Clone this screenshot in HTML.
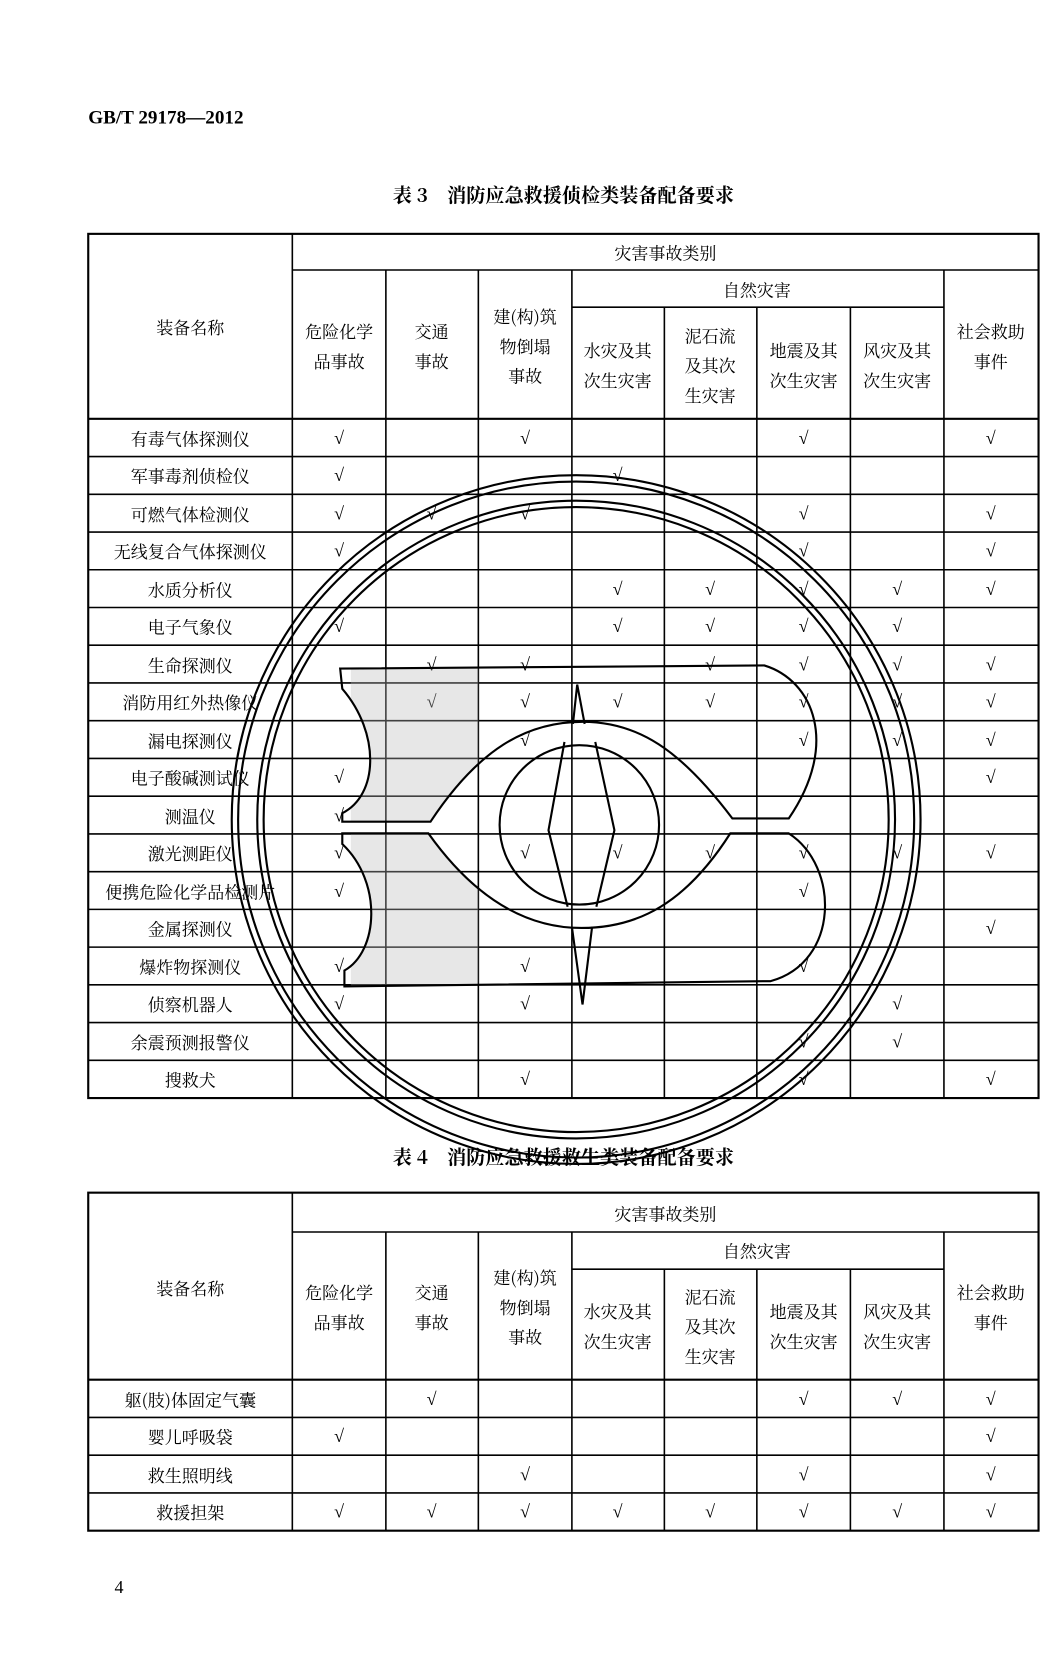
<!DOCTYPE html>
<html><head><meta charset="utf-8"><style>
html,body{margin:0;padding:0;background:#fff;}
svg{display:block;}
text{font-family:"Noto Serif CJK SC","Liberation Serif",serif;fill:#000;}
.t{font-size:16px;text-anchor:middle;dominant-baseline:central;}
.c{font-size:17px;text-anchor:middle;dominant-baseline:central;font-family:"Liberation Serif",serif;}
.b{font-weight:bold;font-size:18px;text-anchor:middle;dominant-baseline:central;}
</style></head><body>
<svg width="1063" height="1671" viewBox="0 0 1000 1572" xmlns="http://www.w3.org/2000/svg">
<rect width="1000" height="1572" fill="#fff"/>
<text x="83" y="111" style="font-family:'Liberation Serif',serif;font-size:18px;font-weight:bold;dominant-baseline:central;">GB/T 29178—2012</text>
<text x="530" y="183" class="b">表 3　消防应急救援侦检类装备配备要求</text>
<text x="530" y="1088" class="b">表 4　消防应急救援救生类装备配备要求</text>
<text x="112" y="1493" class="c">4</text>

<!-- TABLE 3 -->
<g stroke="#000" stroke-width="1.5" fill="none">
<rect x="83" y="220" width="894" height="813" stroke-width="2"/>
<line x1="275" y1="220" x2="275" y2="1033"/>
<line x1="275" y1="254" x2="977" y2="254"/>
<line x1="538" y1="289" x2="888" y2="289"/>
<line x1="83" y1="394" x2="977" y2="394" stroke-width="2"/>
<line x1="363" y1="254" x2="363" y2="1033"/>
<line x1="450" y1="254" x2="450" y2="1033"/>
<line x1="538" y1="254" x2="538" y2="1033"/>
<line x1="625" y1="289" x2="625" y2="1033"/>
<line x1="712" y1="289" x2="712" y2="1033"/>
<line x1="800" y1="289" x2="800" y2="1033"/>
<line x1="888" y1="254" x2="888" y2="1033"/>
<line x1="83" y1="429.5" x2="977" y2="429.5"/>
<line x1="83" y1="465" x2="977" y2="465"/>
<line x1="83" y1="500.5" x2="977" y2="500.5"/>
<line x1="83" y1="536" x2="977" y2="536"/>
<line x1="83" y1="571.5" x2="977" y2="571.5"/>
<line x1="83" y1="607" x2="977" y2="607"/>
<line x1="83" y1="642.5" x2="977" y2="642.5"/>
<line x1="83" y1="678" x2="977" y2="678"/>
<line x1="83" y1="713.5" x2="977" y2="713.5"/>
<line x1="83" y1="749" x2="977" y2="749"/>
<line x1="83" y1="784.5" x2="977" y2="784.5"/>
<line x1="83" y1="820" x2="977" y2="820"/>
<line x1="83" y1="855.5" x2="977" y2="855.5"/>
<line x1="83" y1="891" x2="977" y2="891"/>
<line x1="83" y1="926.5" x2="977" y2="926.5"/>
<line x1="83" y1="962" x2="977" y2="962"/>
<line x1="83" y1="997.5" x2="977" y2="997.5"/>
</g>
<g>
<text x="626" y="237" class="t">灾害事故类别</text>
<text x="712" y="272" class="t">自然灾害</text>
<text x="179" y="307" class="t">装备名称</text>
<text x="319" y="311" class="t">危险化学</text><text x="319" y="339" class="t">品事故</text>
<text x="406" y="311" class="t">交通</text><text x="406" y="339" class="t">事故</text>
<text x="494" y="297" class="t">建(构)筑</text><text x="494" y="325" class="t">物倒塌</text><text x="494" y="353" class="t">事故</text>
<text x="581" y="329" class="t">水灾及其</text><text x="581" y="357" class="t">次生灾害</text>
<text x="668" y="315" class="t">泥石流</text><text x="668" y="343" class="t">及其次</text><text x="668" y="371" class="t">生灾害</text>
<text x="756" y="329" class="t">地震及其</text><text x="756" y="357" class="t">次生灾害</text>
<text x="844" y="329" class="t">风灾及其</text><text x="844" y="357" class="t">次生灾害</text>
<text x="932" y="311" class="t">社会救助</text><text x="932" y="339" class="t">事件</text>
</g>
<g>
<text x="179" y="412" class="t">有毒气体探测仪</text>
<text x="179" y="447" class="t">军事毒剂侦检仪</text>
<text x="179" y="483" class="t">可燃气体检测仪</text>
<text x="179" y="518" class="t">无线复合气体探测仪</text>
<text x="179" y="554" class="t">水质分析仪</text>
<text x="179" y="589" class="t">电子气象仪</text>
<text x="179" y="625" class="t">生命探测仪</text>
<text x="179" y="660" class="t">消防用红外热像仪</text>
<text x="179" y="696" class="t">漏电探测仪</text>
<text x="179" y="731" class="t">电子酸碱测试仪</text>
<text x="179" y="767" class="t">测温仪</text>
<text x="179" y="802" class="t">激光测距仪</text>
<text x="179" y="838" class="t">便携危险化学品检测片</text>
<text x="179" y="873" class="t">金属探测仪</text>
<text x="179" y="909" class="t">爆炸物探测仪</text>
<text x="179" y="944" class="t">侦察机器人</text>
<text x="179" y="980" class="t">余震预测报警仪</text>
<text x="179" y="1015" class="t">搜救犬</text>
</g>
<g>
<text x="319" y="412" class="c">√</text><text x="494" y="412" class="c">√</text><text x="756" y="412" class="c">√</text><text x="932" y="412" class="c">√</text>
<text x="319" y="447" class="c">√</text><text x="581" y="447" class="c">√</text>
<text x="319" y="483" class="c">√</text><text x="406" y="483" class="c">√</text><text x="494" y="483" class="c">√</text><text x="756" y="483" class="c">√</text><text x="932" y="483" class="c">√</text>
<text x="319" y="518" class="c">√</text><text x="756" y="518" class="c">√</text><text x="932" y="518" class="c">√</text>
<text x="581" y="554" class="c">√</text><text x="668" y="554" class="c">√</text><text x="756" y="554" class="c">√</text><text x="844" y="554" class="c">√</text><text x="932" y="554" class="c">√</text>
<text x="319" y="589" class="c">√</text><text x="581" y="589" class="c">√</text><text x="668" y="589" class="c">√</text><text x="756" y="589" class="c">√</text><text x="844" y="589" class="c">√</text>
<text x="406" y="625" class="c">√</text><text x="494" y="625" class="c">√</text><text x="668" y="625" class="c">√</text><text x="756" y="625" class="c">√</text><text x="844" y="625" class="c">√</text><text x="932" y="625" class="c">√</text>
<text x="406" y="660" class="c">√</text><text x="494" y="660" class="c">√</text><text x="581" y="660" class="c">√</text><text x="668" y="660" class="c">√</text><text x="756" y="660" class="c">√</text><text x="844" y="660" class="c">√</text><text x="932" y="660" class="c">√</text>
<text x="494" y="696" class="c">√</text><text x="756" y="696" class="c">√</text><text x="844" y="696" class="c">√</text><text x="932" y="696" class="c">√</text>
<text x="319" y="731" class="c">√</text><text x="932" y="731" class="c">√</text>
<text x="319" y="767" class="c">√</text>
<text x="319" y="802" class="c">√</text><text x="494" y="802" class="c">√</text><text x="581" y="802" class="c">√</text><text x="668" y="802" class="c">√</text><text x="756" y="802" class="c">√</text><text x="844" y="802" class="c">√</text><text x="932" y="802" class="c">√</text>
<text x="319" y="838" class="c">√</text><text x="756" y="838" class="c">√</text>
<text x="932" y="873" class="c">√</text>
<text x="319" y="909" class="c">√</text><text x="494" y="909" class="c">√</text><text x="756" y="909" class="c">√</text>
<text x="319" y="944" class="c">√</text><text x="494" y="944" class="c">√</text><text x="844" y="944" class="c">√</text>
<text x="756" y="980" class="c">√</text><text x="844" y="980" class="c">√</text>
<text x="494" y="1015" class="c">√</text><text x="756" y="1015" class="c">√</text><text x="932" y="1015" class="c">√</text>
</g>

<!-- TABLE 4 -->
<g stroke="#000" stroke-width="1.5" fill="none">
<rect x="83" y="1122" width="894" height="318" stroke-width="2"/>
<line x1="275" y1="1122" x2="275" y2="1440"/>
<line x1="275" y1="1159" x2="977" y2="1159"/>
<line x1="538" y1="1194" x2="888" y2="1194"/>
<line x1="83" y1="1298" x2="977" y2="1298" stroke-width="2"/>
<line x1="363" y1="1159" x2="363" y2="1440"/>
<line x1="450" y1="1159" x2="450" y2="1440"/>
<line x1="538" y1="1159" x2="538" y2="1440"/>
<line x1="625" y1="1194" x2="625" y2="1440"/>
<line x1="712" y1="1194" x2="712" y2="1440"/>
<line x1="800" y1="1194" x2="800" y2="1440"/>
<line x1="888" y1="1159" x2="888" y2="1440"/>
<line x1="83" y1="1333.5" x2="977" y2="1333.5"/>
<line x1="83" y1="1369" x2="977" y2="1369"/>
<line x1="83" y1="1404.5" x2="977" y2="1404.5"/>
</g>
<g>
<text x="626" y="1141" class="t">灾害事故类别</text>
<text x="712" y="1176" class="t">自然灾害</text>
<text x="179" y="1211" class="t">装备名称</text>
<text x="319" y="1215" class="t">危险化学</text><text x="319" y="1243" class="t">品事故</text>
<text x="406" y="1215" class="t">交通</text><text x="406" y="1243" class="t">事故</text>
<text x="494" y="1201" class="t">建(构)筑</text><text x="494" y="1229" class="t">物倒塌</text><text x="494" y="1257" class="t">事故</text>
<text x="581" y="1233" class="t">水灾及其</text><text x="581" y="1261" class="t">次生灾害</text>
<text x="668" y="1219" class="t">泥石流</text><text x="668" y="1247" class="t">及其次</text><text x="668" y="1275" class="t">生灾害</text>
<text x="756" y="1233" class="t">地震及其</text><text x="756" y="1261" class="t">次生灾害</text>
<text x="844" y="1233" class="t">风灾及其</text><text x="844" y="1261" class="t">次生灾害</text>
<text x="932" y="1215" class="t">社会救助</text><text x="932" y="1243" class="t">事件</text>
<text x="179" y="1316" class="t">躯(肢)体固定气囊</text>
<text x="179" y="1351" class="t">婴儿呼吸袋</text>
<text x="179" y="1387" class="t">救生照明线</text>
<text x="179" y="1422" class="t">救援担架</text>
<text x="406" y="1316" class="c">√</text><text x="756" y="1316" class="c">√</text><text x="844" y="1316" class="c">√</text><text x="932" y="1316" class="c">√</text>
<text x="319" y="1351" class="c">√</text><text x="932" y="1351" class="c">√</text>
<text x="494" y="1387" class="c">√</text><text x="756" y="1387" class="c">√</text><text x="932" y="1387" class="c">√</text>
<text x="319" y="1422" class="c">√</text><text x="406" y="1422" class="c">√</text><text x="494" y="1422" class="c">√</text><text x="581" y="1422" class="c">√</text><text x="668" y="1422" class="c">√</text><text x="756" y="1422" class="c">√</text><text x="844" y="1422" class="c">√</text><text x="932" y="1422" class="c">√</text>
</g>

<!-- STAMP -->
<defs>
<clipPath id="cu"><path d="M320,629 L719,626 C765,640 790,700 742,770 L689,770 C640,705 600,679 548,679 C495,679 450,705 405,773 L322,773 L322,765 C356,748 358,690 322,648 Z"/></clipPath>
<clipPath id="cl"><path d="M322,784 L403,784 C450,850 500,873 547,873 C600,873 645,850 687,784 L742,784 C790,815 790,905 725,923 L324,928 L324,913 C356,895 360,830 322,794 Z"/></clipPath>
</defs>
<rect x="330" y="620" width="120" height="320" fill="#bbb" opacity="0.35" clip-path="url(#cu)"/>
<rect x="330" y="620" width="120" height="320" fill="#bbb" opacity="0.35" clip-path="url(#cl)"/>
<g fill="none" stroke="#000" stroke-width="2">
<circle cx="542" cy="771" r="324"/>
<circle cx="542" cy="771" r="318"/>
<circle cx="542" cy="771" r="300"/>
<circle cx="542" cy="771" r="294"/>
<path d="M320,629 L719,626 C765,640 790,700 742,770 L689,770 C640,705 600,679 548,679 C495,679 450,705 405,773 L322,773 L322,765 C356,748 358,690 322,648 Z"/>
<path d="M322,784 L403,784 C450,850 500,873 547,873 C600,873 645,850 687,784 L742,784 C790,815 790,905 725,923 L324,928 L324,913 C356,895 360,830 322,794 Z"/>
<path d="M539,681 L543,644 L550,681"/>
<path d="M538,872 L548,945 L557,872"/>
<circle cx="545" cy="776" r="75"/>
<path d="M531,698 L516,781 L534,853"/>
<path d="M560,698 L578,781 L561,853"/>
</g>
</svg>
</body></html>
